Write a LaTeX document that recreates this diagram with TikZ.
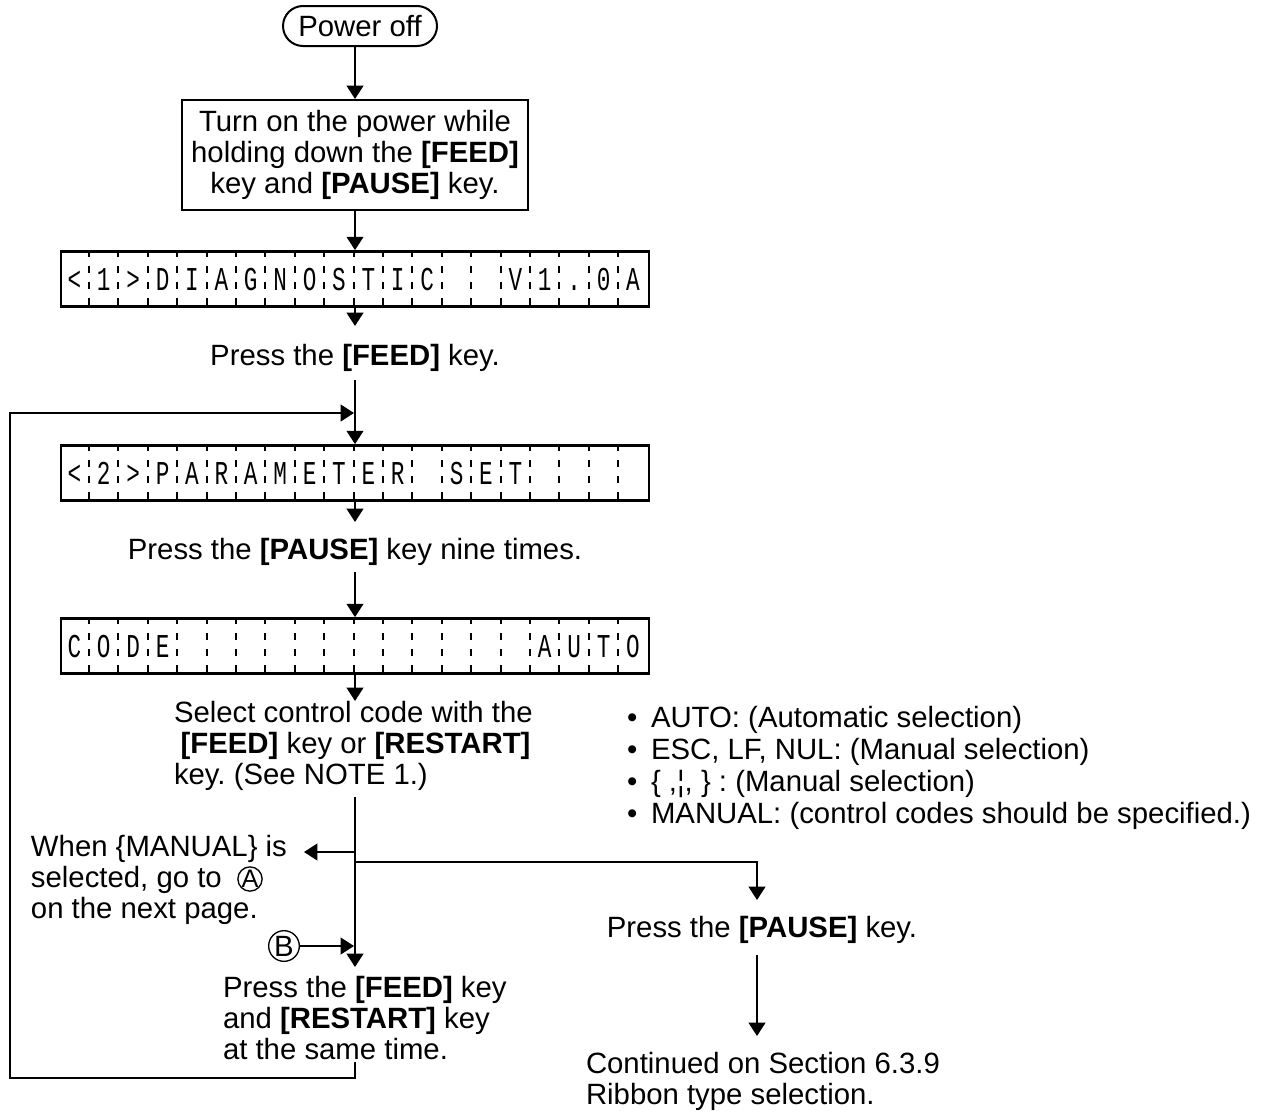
\documentclass[tikz,border=0pt]{standalone}
\usepackage{fontspec}
\setmainfont{Liberation Sans}
\newfontfamily\lcdfont[FakeStretch=0.68]{Liberation Mono}
\usetikzlibrary{arrows.meta,calc}
\frenchspacing
\newcommand\bul{\makebox[18pt][l]{\textbullet}}
\newcommand\lcdrow[3]{%
  \node[lcdbox] (#1) at (355,#2) {};
  \foreach \i in {1,...,19}
    \draw[lcdtick] ($(#1.north west)+(\i*29.4,0)$) -- ($(#1.south west)+(\i*29.4,0)$);
  \foreach \ch [count=\k] in {#3}
    \node[lcdchar] at ($(#1.west)+(\k*29.4-14.7,11.5)$) {\ch};
}
\begin{document}
\begin{tikzpicture}[x=0.75pt,y=-0.75pt,line width=1.5pt,
 txt/.style={font=\fontsize{22}{23.25}\selectfont, inner sep=0pt},
 arr/.style={-{Triangle[length=10pt,width=12.5pt]}},
 stadium/.style={draw,rounded corners=15pt,minimum width=115.5pt,minimum height=30pt,inner sep=0pt,font=\fontsize{22}{23.25}\selectfont},
 stepbox/.style={draw,minimum width=259.5pt,minimum height=82.5pt,align=center,inner sep=0pt,font=\fontsize{22}{23.25}\selectfont},
 lcdbox/.style={draw,line width=2pt,minimum width=441pt,minimum height=41.25pt,inner sep=0pt},
 lcdtick/.style={line width=1.5pt,dash pattern=on 5.25pt off 6.75pt},
 lcdchar/.style={font=\lcdfont\fontsize{25}{25}\selectfont,inner sep=0pt,anchor=base},
 circA/.style={draw,circle,line width=1pt,minimum size=17pt,inner sep=0pt,font=\fontsize{19}{19}\selectfont},
 circB/.style={draw,circle,line width=1pt,minimum size=23pt,inner sep=0pt,font=\fontsize{22}{22}\selectfont}]

\useasboundingbox (0,0) rectangle (1273,1117);

\node[stadium] (power) at (360,26) {Power off};
\node[stepbox] (turnon) at (355,155) {Turn on the power while\\holding down the \textbf{[FEED]}\\key and \textbf{[PAUSE]} key.};
\lcdrow{lcd1}{279}{<,1,>,D,I,A,G,N,O,S,T,I,C,{},{},V,1,.,0,A}
\node[txt] (pf) at (355,358) {Press the \textbf{[FEED]} key.};
\lcdrow{lcd2}{473}{<,2,>,P,A,R,A,M,E,T,E,R,{},S,E,T,{},{},{},{}}
\node[txt] (p9) at (355,552) {Press the \textbf{[PAUSE]} key nine times.};
\lcdrow{lcd3}{646}{C,O,D,E,{},{},{},{},{},{},{},{},{},{},{},{},A,U,T,O}
\node[txt,align=left,anchor=west] (sel) at (173,746) {Select control code with the\\\hspace*{5pt}\textbf{[FEED]} key or \textbf{[RESTART]}\\key. (See NOTE 1.)};
\node[txt,align=left,anchor=west] (manual) at (30,880) {When \{MANUAL\} is\\selected, go to\\on the next page.};
\node[circA] (circA) at (250,879) {A};
\node[circB] (circB) at (284,946) {B};
\node[txt,align=left,anchor=west] (pfr) at (222,1018) {Press the \textbf{[FEED]} key\\and \textbf{[RESTART]} key\\at the same time.};
\node[txt] (pp) at (762,930) {Press the \textbf{[PAUSE]} key.};
\node[txt,align=left,anchor=west] (cont) at (585,1081) {Continued on Section 6.3.9\\Ribbon type selection.};
\node[txt,align=left,anchor=west,font=\fontsize{22}{24}\selectfont] (bullets) at (626,768) {\bul AUTO: (Automatic selection)\\\bul ESC, LF, NUL: (Manual selection)\\\bul \{ ,¦, \} : (Manual selection)\\\bul MANUAL: (control codes should be specified.)};

\coordinate (pfTop) at (355,326);
\coordinate (pfBot) at (355,380);
\coordinate (join) at (355,413);
\coordinate (p9Top) at (355,522);
\coordinate (p9Bot) at (355,572);
\coordinate (selTop) at (355,701);
\coordinate (selBot) at (355,797);
\coordinate (brL) at (355,852);
\coordinate (manTip) at (304,852);
\coordinate (brR) at (355,862);
\coordinate (pauseTop) at (757,900);
\coordinate (ffTop) at (355,967);
\coordinate (pauseBot) at (757,955);
\coordinate (contTop) at (757,1036);
\coordinate (loopEnd) at (355,1062);
\coordinate (loopBR) at (355,1078);
\coordinate (loopBL) at (10,1078);
\coordinate (loopTL) at (10,413);

\draw[arr] (power.south -| turnon.north) -- (turnon.north);
\draw[arr] (turnon.south) -- (lcd1.north);
\draw[arr] (lcd1.south) -- (pfTop);
\draw[arr] (pfBot) -- (lcd2.north);
\draw[arr,shorten >=0.75pt] (loopEnd) -- (loopBR) -- (loopBL) -- (loopTL) -- (join);
\draw[arr] (lcd2.south) -- (p9Top);
\draw[arr] (p9Bot) -- (lcd3.north);
\draw[arr] (lcd3.south) -- (selTop);
\draw[arr] (selBot) -- (ffTop);
\draw[arr] (brL) -- (manTip);
\draw[arr] (brR) -- (brR -| pauseTop) -- (pauseTop);
\draw[arr,shorten >=0.75pt] (circB) -- (circB -| join);
\draw[arr] (pauseBot) -- (contTop);
\end{tikzpicture}
\end{document}
